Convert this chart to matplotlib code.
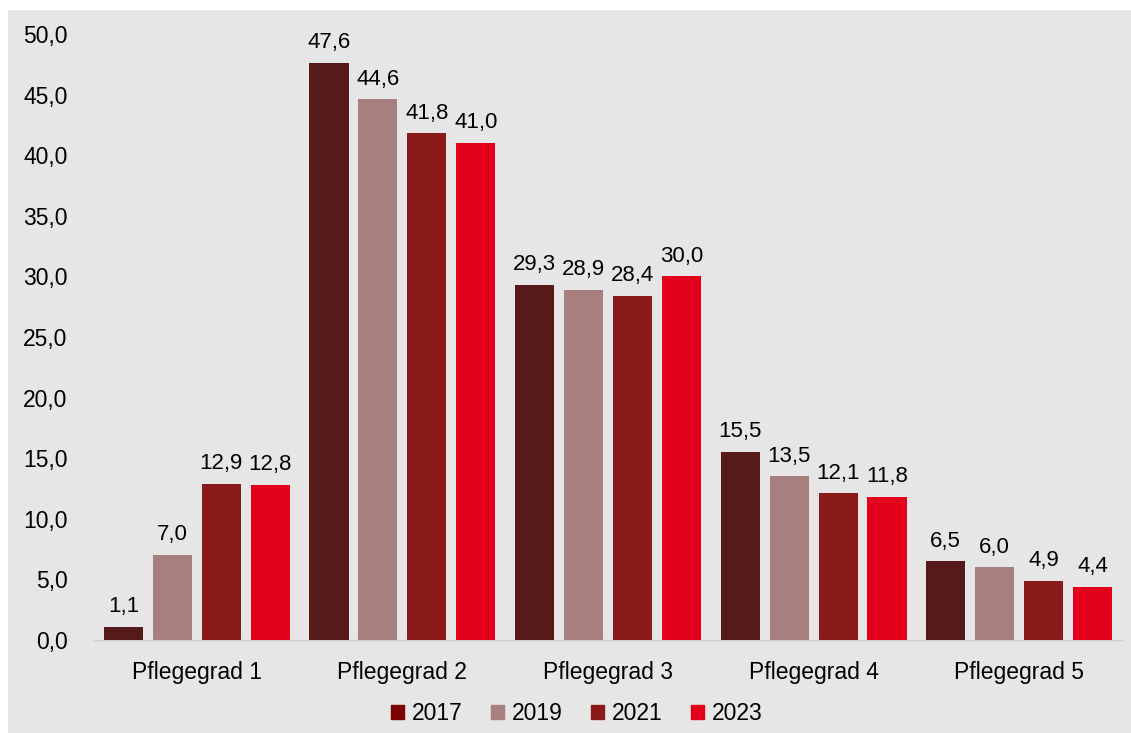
import numpy as np
import matplotlib.pyplot as plt
from matplotlib.patches import Rectangle

plt.rcParams['font.family'] = ['Liberation Sans', 'DejaVu Sans']

kategorien = ['Pflegegrad 1', 'Pflegegrad 2', 'Pflegegrad 3', 'Pflegegrad 4', 'Pflegegrad 5']
jahre = ['2017', '2019', '2021', '2023']
werte_2017 = [1.1, 47.6, 29.3, 15.5, 6.5]
werte_2019 = [7.0, 44.6, 28.9, 13.5, 6.0]
werte_2021 = [12.9, 41.8, 28.4, 12.1, 4.9]
werte_2023 = [12.8, 41.0, 30.0, 11.8, 4.4]
farben = ['#561A1A', '#A87F7F', '#8B1A1A', '#E2001A']
legenden_farben = ['#7B0000', '#A87F7F', '#8B1A1A', '#E2001A']

bg = '#E6E6E6'
fig = plt.figure(figsize=(11.31, 7.33), dpi=100)
fig.patch.set_facecolor('white')
fig.patches.append(Rectangle((8 / 1131, 0), 1, 1 - 10 / 733, transform=fig.transFigure,
                             facecolor=bg, edgecolor='none', zorder=-10))

ax = fig.add_axes([94 / 1131, (733 - 640) / 733, (1122 - 94) / 1131, (640 - 34) / 733])
ax.set_facecolor(bg)

x = np.arange(len(kategorien))
breite = 0.19
schritt = 0.238
reihen = [werte_2017, werte_2019, werte_2021, werte_2023]
for i, (werte, farbe) in enumerate(zip(reihen, farben)):
    pos = x + (i - 1.5) * schritt
    ax.bar(pos, werte, width=breite, color=farbe, zorder=3)
    for px, v in zip(pos, werte):
        ax.text(px, v + 0.8, f'{v:.1f}'.replace('.', ','), ha='center', va='bottom',
                fontsize=16, color='black')

ax.set_xlim(-0.5, 4.5)
ax.set_ylim(0, 50)
ax.set_yticks(np.arange(0, 51, 5))
ax.set_yticklabels([f'{t:.1f}'.replace('.', ',') for t in np.arange(0, 51, 5)], fontsize=16.5)
ax.set_xticks(x)
ax.set_xticklabels(kategorien, fontsize=16.5)
ax.tick_params(axis='both', length=0)
ax.tick_params(axis='y', pad=19)
ax.tick_params(axis='x', pad=15)
for s in ['top', 'right', 'left']:
    ax.spines[s].set_visible(False)
ax.spines['bottom'].set_color('#CFCFCF')
ax.spines['bottom'].set_linewidth(1)

handles = [Rectangle((0, 0), 1, 1, color=c) for c in legenden_farben]
fig.legend(handles, jahre, loc='center', bbox_to_anchor=(0.51, 1 - 714 / 733), ncol=4,
           frameon=False, fontsize=16.5, handlelength=0.55, handleheight=0.55,
           handletextpad=0.35, columnspacing=1.25)

fig.savefig('out.png', dpi=100)
